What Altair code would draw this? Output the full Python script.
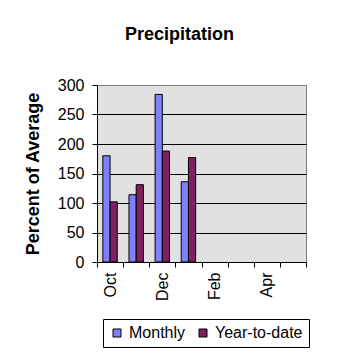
import altair as alt
import pandas as pd

months = ["Oct", "Nov", "Dec", "Jan", "Feb", "Mar", "Apr", "May"]
series = ["Monthly", "Year-to-date"]
data_months = ["Oct", "Nov", "Dec", "Jan"]
monthly = [180, 114, 284, 136]
ytd = [102, 131, 188, 177]
y_ticks = [0, 50, 100, 150, 200, 250, 300]
shown_labels = ["Oct", "Dec", "Feb", "Apr"]
colors = ["#8080FF", "#802060"]

rows = []
for m, a, b in zip(data_months, monthly, ytd):
    rows.append({"month": m, "series": series[0], "value": a})
    rows.append({"month": m, "series": series[1], "value": b})
df = pd.DataFrame(rows)

FONT = "Liberation Sans"
label_expr = "indexof(" + str(shown_labels) + ", datum.value) >= 0 ? datum.value : ''"

chart = alt.Chart(df).mark_bar(stroke="black", strokeWidth=1).encode(
    x=alt.X("month:N", sort=months,
            scale=alt.Scale(domain=months, paddingInner=0, paddingOuter=0),
            axis=alt.Axis(title=None, tickBand="extent", labelAngle=-90, labelExpr=label_expr,
                          labelFont=FONT, labelFontSize=16, labelColor="black", labelPadding=5,
                          tickColor="black", tickSize=5, domainColor="black", grid=False)),
    xOffset=alt.XOffset("series:N", scale=alt.Scale(domain=series, paddingInner=0, paddingOuter=0.81)),
    y=alt.Y("value:Q", scale=alt.Scale(domain=[0, 300], nice=False),
            axis=alt.Axis(title="Percent of Average", values=y_ticks,
                          titleFont=FONT, titleFontSize=18, titleFontWeight="bold", titleColor="black",
                          titleX=-64, titleY=88.5, titleBaseline="middle", titleAlign="center", titleAngle=270,
                          labelFont=FONT, labelFontSize=16, labelColor="black", labelPadding=8,
                          tickColor="black", tickSize=5, domainColor="black",
                          grid=True,
                          gridColor={"condition": {"test": "datum.value >= 300", "value": "#808080"}, "value": "black"},
                          gridOpacity=1)),
    color=alt.Color("series:N", scale=alt.Scale(domain=series, range=colors),
                    legend=alt.Legend(title=None, orient="none", legendX=6, legendY=234, direction="horizontal",
                                      strokeColor="black", fillColor="white", padding=6,
                                      symbolType="square", symbolSize=64, symbolStrokeColor="black",
                                      symbolStrokeWidth=1, labelFont=FONT, labelFontSize=16, labelColor="black",
                                      columnPadding=9, labelOffset=4)),
).properties(
    width=209, height=177,
    background="white",
    title=alt.Title("Precipitation", font=FONT, fontSize=18, fontWeight="bold", color="black",
                    anchor="middle", dx=-22, offset=33),
    autosize=alt.AutoSizeParams(type="none"),
    padding={"left": 89, "top": 77, "right": 44, "bottom": 88},
).configure_view(
    fill="#E1E1E1", stroke="#808080", strokeWidth=1
)

chart.save("out.html", embed_options={"renderer": "svg", "actions": False})
